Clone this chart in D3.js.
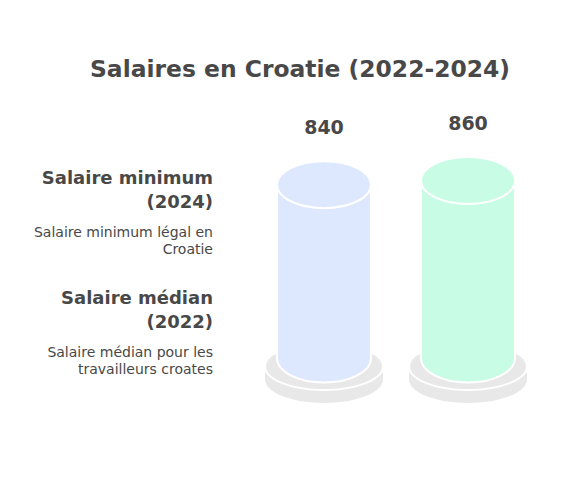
<!DOCTYPE html>
<html>
<head>
<meta charset="utf-8">
<script src="https://cdn.jsdelivr.net/npm/d3@7"></script>
<style>
  body { margin: 0; background: #fff; }
  text { font-family: "DejaVu Sans", sans-serif; fill: #484848; }
</style>
</head>
<body>
<svg id="chart"></svg>
<script>
// data
const categories = ['Salaire minimum (2024)', 'Salaire médian (2022)'];
const values = [840, 860];
const colors = ['#dde8ff', '#c9fce5'];
const labelTitles = [['Salaire minimum', '(2024)'], ['Salaire médian', '(2022)']];
const labelNotes = [['Salaire minimum légal en', 'Croatie'], ['Salaire médian pour les', 'travailleurs croates']];
const chartTitle = 'Salaires en Croatie (2022-2024)';

const drawGraph = () => {
  // dimensions
  const width = 570;
  const height = 480;
  const baseY = 358;
  const rx = 47;
  const ry = 23.5;

  const svg = d3.select('#chart')
    .attr('width', width)
    .attr('height', height);

  // title
  svg.append('text')
    .attr('x', 300)
    .attr('y', 77)
    .attr('text-anchor', 'middle')
    .attr('textLength', 420)
    .attr('lengthAdjust', 'spacingAndGlyphs')
    .style('font-size', '23px')
    .style('font-weight', 'bold')
    .text(chartTitle);

  // scales
  const xScale = d3.scaleBand()
    .domain(categories)
    .range([252, 540]);

  const yScale = d3.scaleLinear()
    .domain([0, d3.max(values)])
    .range([baseY, 180.5]);

  const cx = (d) => xScale(d) + xScale.bandwidth() / 2;

  const groups = svg.selectAll('g.bar')
    .data(categories)
    .enter()
    .append('g')
    .attr('class', 'bar');

  // base disc (shadow)
  const dRx = 59;
  const dRy = 23.5;
  const dTop = 366.5;
  const dBot = 379.5;
  groups.append('path')
    .attr('d', (d) => {
      const x = cx(d);
      return `M${x - dRx},${dTop} L${x - dRx},${dBot} A${dRx},${dRy} 0 0 0 ${x + dRx},${dBot} L${x + dRx},${dTop} Z`;
    })
    .attr('fill', '#e8e8e8');
  groups.append('ellipse')
    .attr('cx', cx)
    .attr('cy', dTop)
    .attr('rx', dRx)
    .attr('ry', dRy)
    .attr('fill', '#e8e8e8')
    .attr('stroke', '#fff')
    .attr('stroke-width', 2);

  // cylinder body
  groups.append('path')
    .attr('d', (d, i) => {
      const x = cx(d);
      const top = yScale(values[i]);
      return `M${x - rx},${top} L${x - rx},${baseY} A${rx},${ry + 1} 0 0 0 ${x + rx},${baseY} L${x + rx},${top} Z`;
    })
    .attr('fill', (d, i) => colors[i])
    .attr('stroke', '#fff')
    .attr('stroke-width', 2);

  // cylinder top
  groups.append('ellipse')
    .attr('cx', cx)
    .attr('cy', (d, i) => yScale(values[i]))
    .attr('rx', rx)
    .attr('ry', ry)
    .attr('fill', (d, i) => colors[i])
    .attr('stroke', '#fff')
    .attr('stroke-width', 2);

  // value labels
  groups.append('text')
    .attr('x', cx)
    .attr('y', (d, i) => yScale(values[i]) - 51)
    .attr('text-anchor', 'middle')
    .style('font-size', '19px')
    .style('font-weight', 'bold')
    .text((d, i) => values[i]);

  // left labels
  const labelX = 213;
  const labelTop = [184, 304];
  categories.forEach((c, i) => {
    const t = svg.append('text')
      .attr('text-anchor', 'end')
      .style('font-size', '18px')
      .style('font-weight', 'bold');
    labelTitles[i].forEach((line, j) => {
      t.append('tspan')
        .attr('x', labelX)
        .attr('y', labelTop[i] + j * 24)
        .text(line);
    });
    const n = svg.append('text')
      .attr('text-anchor', 'end')
      .style('font-size', '14px');
    labelNotes[i].forEach((line, j) => {
      n.append('tspan')
        .attr('x', labelX)
        .attr('y', labelTop[i] + 53 + j * 17)
        .text(line);
    });
  });
};

drawGraph();
</script>
</body>
</html>
